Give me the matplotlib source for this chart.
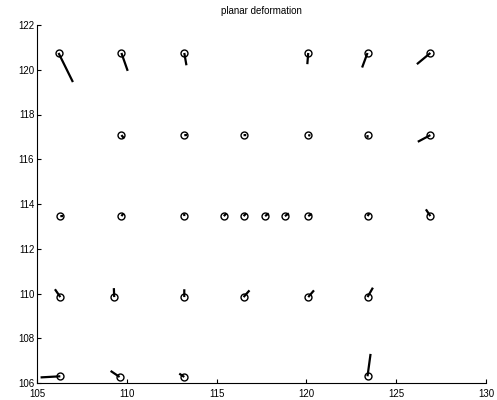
import numpy as np
import matplotlib
matplotlib.use('Agg')
import matplotlib.pyplot as plt

# station positions (x, y) and displacement (u, v)
x = [106.2, 109.7, 113.2, 120.1, 123.4, 126.9,
     109.7, 113.2, 116.5, 120.1, 123.4, 126.9,
     106.3, 109.7, 113.2, 115.4, 116.5, 117.7, 118.8, 120.1, 123.4, 126.9,
     106.3, 109.3, 113.2, 116.5, 120.1, 123.4,
     106.3, 109.6, 113.2, 123.4]
y = [120.75, 120.75, 120.75, 120.75, 120.75, 120.75,
     117.08, 117.08, 117.08, 117.08, 117.08, 117.08,
     113.46, 113.46, 113.46, 113.46, 113.46, 113.46, 113.46, 113.46, 113.46, 113.46,
     109.84, 109.84, 109.84, 109.84, 109.84, 109.84,
     106.3, 106.27, 106.27, 106.3]
u = [0.8, 0.35, 0.12, -0.05, -0.3, -0.75,
     0.15, 0.15, 0.15, 0.12, 0.0, -0.7,
     0.15, 0.12, 0.0, 0.15, 0.15, 0.2, 0.22, 0.2, 0.1, -0.25,
     -0.3, -0.02, 0.0, 0.33, 0.32, 0.3,
     -1.1, -0.5, -0.28, 0.17]
v = [-1.3, -0.8, -0.55, -0.5, -0.65, -0.5,
     -0.15, 0.0, 0.0, -0.02, -0.12, -0.3,
     0.0, 0.12, 0.12, 0.12, 0.12, 0.12, 0.12, 0.1, 0.12, 0.3,
     0.35, 0.4, 0.35, 0.3, 0.3, 0.42,
     -0.05, 0.27, 0.15, 1.0]

plt.rcParams['font.family'] = ['Liberation Sans', 'DejaVu Sans']
plt.rcParams['font.size'] = 7

fig = plt.figure(figsize=(4.97, 4.0), dpi=100)
ax = fig.add_axes([0.0744, 0.0425, 0.9036, 0.895])

# segments separated by nan
sx = []
sy = []
for xi, yi, ui, vi in zip(x, y, u, v):
    sx += [xi, xi + ui, np.nan]
    sy += [yi, yi + vi, np.nan]
ax.plot(sx, sy, 'k-', lw=1.6, solid_capstyle='butt')
ax.plot(x, y, 'o', mfc='none', mec='k', ms=5, mew=1)

ax.set_xlim(105, 130)
ax.set_ylim(106, 122)
ax.set_xticks(np.arange(105, 131, 5))
ax.set_yticks(np.arange(106, 123, 2))
ax.spines['top'].set_visible(False)
ax.spines['right'].set_visible(False)
ax.tick_params(direction='in', length=3, width=0.8, labelsize=7)
ax.tick_params(axis='x', pad=4)
ax.tick_params(axis='y', pad=2)
ax.set_title('planar deformation', fontsize=7, pad=8)

fig.savefig('out.png', dpi=100)
